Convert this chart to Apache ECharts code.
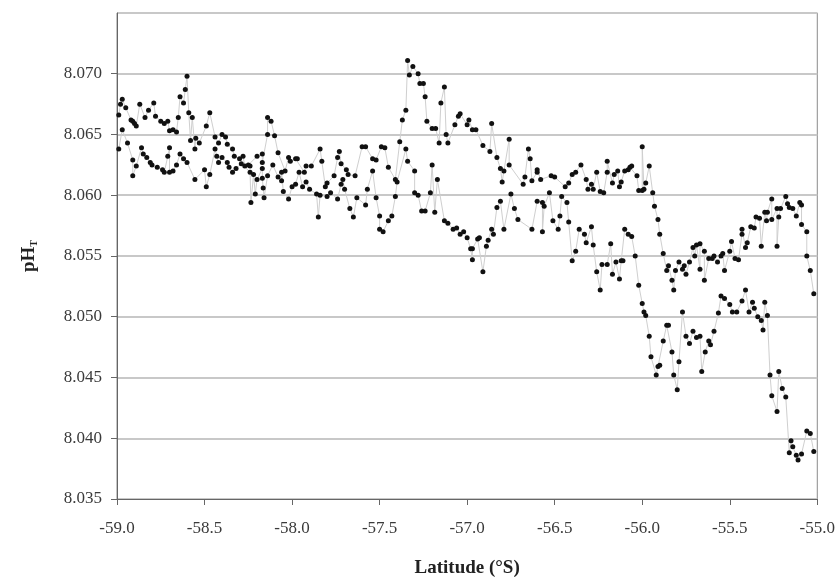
<!DOCTYPE html>
<html>
<head>
<meta charset="utf-8">
<script src="https://cdn.jsdelivr.net/npm/echarts@6/dist/echarts.min.js"></script>
<style>
  html, body { margin: 0; padding: 0; background: #fff; }
  #chart { width: 838px; height: 583px; }
</style>
</head>
<body>
<div id="chart"></div>
<script>
// latitude (°S, negative) and pH_T
var trackUpper = [
  [-58.99,8.0666],[-58.98,8.0675],[-58.97,8.0679],[-58.95,8.0672],[-58.92,8.0662],[-58.91,8.0661],
  [-58.90,8.0659],[-58.89,8.0657],[-58.87,8.0675],[-58.84,8.0664],[-58.82,8.0670],[-58.79,8.0676],
  [-58.78,8.0665],[-58.75,8.0661],[-58.73,8.0659],[-58.71,8.0661],[-58.70,8.0653],[-58.68,8.0654],
  [-58.66,8.0652],[-58.65,8.0664],[-58.64,8.0681],[-58.62,8.0676],[-58.61,8.0687],[-58.60,8.0698],
  [-58.59,8.0668],[-58.58,8.0645],[-58.57,8.0664],[-58.555,8.0638],[-58.55,8.0647],[-58.53,8.0643],
  [-58.49,8.0657],[-58.47,8.0668],[-58.44,8.0648],[-58.42,8.0643],[-58.40,8.0650],[-58.38,8.0648],
  [-58.37,8.0642],[-58.34,8.0638],[-58.33,8.0632],[-58.30,8.0630],[-58.28,8.0632],[-58.27,8.0624],
  [-58.25,8.0625],[-58.24,8.0624],[-58.20,8.0632],[-58.17,8.0634],[-58.17,8.0627],[-58.14,8.0650],
  [-58.14,8.0664],[-58.12,8.0661],[-58.10,8.0649],[-58.08,8.0635],[-58.04,8.0620],[-58.02,8.0631],
  [-58.01,8.0628],[-57.98,8.0630],[-57.97,8.0630],[-57.93,8.0619],[-57.92,8.0624],[-57.89,8.0624],
  [-57.84,8.0638],[-57.83,8.0628],[-57.81,8.0607],[-57.80,8.0610],[-57.76,8.0616],[-57.74,8.0631],
  [-57.73,8.0636],[-57.72,8.0626],[-57.69,8.0621],[-57.68,8.0617],[-57.64,8.0616],[-57.60,8.0640],
  [-57.58,8.0640],[-57.54,8.0630],[-57.52,8.0629],[-57.49,8.0640],[-57.47,8.0639],[-57.45,8.0623],
  [-57.41,8.0613],[-57.385,8.0644],[-57.37,8.0662],[-57.35,8.0670],[-57.34,8.0711],[-57.33,8.0699],
  [-57.31,8.0706],[-57.28,8.0700],[-57.27,8.0692],[-57.25,8.0692],[-57.24,8.0681],[-57.23,8.0661],
  [-57.20,8.0655],[-57.18,8.0655],[-57.16,8.0643],[-57.15,8.0676],[-57.13,8.0689],[-57.12,8.0650],
  [-57.11,8.0643],[-57.07,8.0658],[-57.05,8.0665],[-57.04,8.0667],[-57.00,8.0658],[-56.99,8.0662],
  [-56.97,8.0654],[-56.95,8.0654],[-56.91,8.0641],[-56.87,8.0636],[-56.86,8.0659],[-56.83,8.0631],
  [-56.81,8.0622],[-56.80,8.0611],[-56.79,8.0620],[-56.76,8.0646],[-56.76,8.0625],[-56.68,8.0609],
  [-56.67,8.0615],[-56.65,8.0638],[-56.64,8.0630],[-56.63,8.0612],[-56.60,8.0619],[-56.60,8.0621],
  [-56.58,8.0613],[-56.52,8.0616],[-56.50,8.0615],[-56.44,8.0607],[-56.42,8.0610],[-56.40,8.0617],
  [-56.38,8.0619],[-56.35,8.0625],[-56.32,8.0613],[-56.31,8.0605],[-56.29,8.0609],[-56.28,8.0605],
  [-56.26,8.0619],[-56.24,8.0603],[-56.22,8.0602],[-56.20,8.0619],[-56.20,8.0628],[-56.17,8.0610],
  [-56.16,8.0617],[-56.14,8.0620],[-56.13,8.0607],[-56.12,8.0611],[-56.10,8.0620],[-56.08,8.0621],
  [-56.07,8.0623],[-56.06,8.0624],[-56.03,8.0616],[-56.02,8.0604],[-56.00,8.0604],[-56.00,8.0640],
  [-55.99,8.0605],[-55.98,8.0610],[-55.96,8.0624],[-55.94,8.0602],[-55.93,8.0591],[-55.91,8.0580],
  [-55.90,8.0568],[-55.88,8.0552],[-55.86,8.0538],[-55.85,8.0542],[-55.83,8.0530],[-55.82,8.0522],
  [-55.81,8.0538],[-55.79,8.0545],[-55.77,8.0539],[-55.76,8.0542],[-55.75,8.0535],[-55.73,8.0545],
  [-55.71,8.0557],[-55.70,8.0550],[-55.69,8.0559],[-55.67,8.0539],[-55.67,8.0560],[-55.645,8.0554],
  [-55.645,8.0530],[-55.62,8.0548],[-55.60,8.0548],[-55.59,8.0550],[-55.57,8.0545],[-55.55,8.0550],
  [-55.54,8.0552],[-55.53,8.0538],[-55.50,8.0554],[-55.49,8.0562],[-55.47,8.0548],[-55.45,8.0547],
  [-55.43,8.0568],[-55.43,8.0572],[-55.41,8.0557],[-55.40,8.0561],[-55.38,8.0574],[-55.36,8.0573],
  [-55.35,8.0582],[-55.33,8.0581],[-55.32,8.0558],[-55.30,8.0586],[-55.29,8.0579],[-55.285,8.0586],
  [-55.26,8.0597],[-55.26,8.0580],[-55.23,8.0589],[-55.23,8.0558],[-55.22,8.0582],[-55.21,8.0589],
  [-55.18,8.0599],[-55.17,8.0593],[-55.16,8.0590],[-55.14,8.0589],[-55.12,8.0583],[-55.10,8.0594],
  [-55.09,8.0592],[-55.09,8.0576],[-55.06,8.0570],[-55.06,8.0550],[-55.04,8.0538],[-55.02,8.0519]
];

var trackLower = [
  [-58.99,8.0638],[-58.97,8.0654],[-58.94,8.0643],[-58.91,8.0629],[-58.91,8.0616],[-58.89,8.0624],
  [-58.86,8.0639],[-58.85,8.0634],[-58.83,8.0631],[-58.81,8.0627],[-58.80,8.0625],[-58.77,8.0623],
  [-58.74,8.0621],[-58.73,8.0619],[-58.71,8.0632],[-58.70,8.0639],[-58.70,8.0619],[-58.68,8.0620],
  [-58.66,8.0625],[-58.64,8.0634],[-58.62,8.0630],[-58.60,8.0627],[-58.555,8.0613],[-58.50,8.0621],
  [-58.49,8.0607],[-58.47,8.0617],[-58.44,8.0638],[-58.43,8.0632],[-58.42,8.0627],[-58.40,8.0631],
  [-58.37,8.0627],[-58.36,8.0623],[-58.34,8.0619],[-58.32,8.0622],[-58.29,8.0626],[-58.24,8.0619],
  [-58.235,8.0594],[-58.22,8.0617],[-58.21,8.0601],[-58.20,8.0613],[-58.17,8.0622],[-58.17,8.0614],
  [-58.165,8.0606],[-58.16,8.0598],[-58.14,8.0616],[-58.11,8.0625],[-58.08,8.0615],[-58.06,8.0612],
  [-58.06,8.0619],[-58.05,8.0603],[-58.02,8.0597],[-58.00,8.0607],[-57.98,8.0609],[-57.96,8.0619],
  [-57.94,8.0607],[-57.92,8.0611],[-57.90,8.0605],[-57.86,8.0601],[-57.85,8.0582],[-57.84,8.0600],
  [-57.80,8.0599],[-57.78,8.0602],[-57.74,8.0597],[-57.72,8.0609],[-57.71,8.0613],[-57.70,8.0605],
  [-57.67,8.0589],[-57.65,8.0582],[-57.63,8.0598],[-57.58,8.0592],[-57.57,8.0605],[-57.54,8.0620],
  [-57.52,8.0598],[-57.50,8.0583],[-57.50,8.0572],[-57.48,8.0570],[-57.45,8.0579],[-57.43,8.0583],
  [-57.41,8.0599],[-57.40,8.0611],[-57.35,8.0638],[-57.34,8.0628],[-57.30,8.0620],[-57.30,8.0602],
  [-57.28,8.0600],[-57.26,8.0587],[-57.24,8.0587],[-57.21,8.0602],[-57.20,8.0625],[-57.185,8.0586],
  [-57.17,8.0613],[-57.13,8.0579],[-57.11,8.0577],[-57.08,8.0572],[-57.06,8.0573],[-57.04,8.0568],
  [-57.02,8.0570],[-57.00,8.0565],[-56.98,8.0556],[-56.97,8.0547],[-56.97,8.0556],[-56.94,8.0564],
  [-56.93,8.0565],[-56.91,8.0537],[-56.89,8.0558],[-56.88,8.0563],[-56.86,8.0572],[-56.85,8.0568],
  [-56.83,8.0590],[-56.81,8.0595],[-56.79,8.0572],[-56.75,8.0601],[-56.73,8.0589],[-56.71,8.0580],
  [-56.63,8.0572],[-56.60,8.0595],[-56.57,8.0594],[-56.57,8.0570],[-56.56,8.0591],[-56.53,8.0602],
  [-56.51,8.0579],[-56.48,8.0572],[-56.47,8.0583],[-56.46,8.0599],[-56.43,8.0594],[-56.42,8.0578],
  [-56.40,8.0546],[-56.38,8.0554],[-56.36,8.0572],[-56.33,8.0568],[-56.32,8.0561],[-56.29,8.0574],
  [-56.28,8.0559],[-56.26,8.0537],[-56.24,8.0522],[-56.23,8.0543],[-56.20,8.0543],[-56.18,8.0560],
  [-56.17,8.0535],[-56.15,8.0545],[-56.13,8.0531],[-56.12,8.0546],[-56.11,8.0546],[-56.10,8.0572],
  [-56.08,8.0568],[-56.06,8.0566],[-56.04,8.0550],[-56.02,8.0526],[-56.00,8.0511],[-55.99,8.0504],
  [-55.98,8.0501],[-55.96,8.0484],[-55.95,8.0467],[-55.92,8.0452],[-55.91,8.0459],[-55.90,8.0460],
  [-55.88,8.0480],[-55.86,8.0493],[-55.85,8.0493],[-55.83,8.0471],[-55.82,8.0452],[-55.80,8.0440],
  [-55.79,8.0463],[-55.77,8.0504],[-55.75,8.0484],[-55.73,8.0478],[-55.71,8.0488],[-55.69,8.0483],
  [-55.67,8.0484],[-55.66,8.0455],[-55.64,8.0471],[-55.62,8.0480],[-55.61,8.0477],[-55.59,8.0488],
  [-55.565,8.0503],[-55.55,8.0517],[-55.53,8.0515],[-55.50,8.0510],[-55.485,8.0504],[-55.46,8.0504],
  [-55.43,8.0513],[-55.41,8.0522],[-55.39,8.0504],[-55.37,8.0512],[-55.36,8.0507],[-55.34,8.0500],
  [-55.32,8.0497],[-55.31,8.0489],[-55.30,8.0512],[-55.285,8.0501],[-55.27,8.0452],[-55.26,8.0435],
  [-55.23,8.0422],[-55.22,8.0455],[-55.20,8.0441],[-55.18,8.0434],[-55.16,8.0388],[-55.15,8.0398],
  [-55.14,8.0393],[-55.12,8.0386],[-55.11,8.0382],[-55.09,8.0387],[-55.06,8.0406],[-55.04,8.0404],
  [-55.02,8.0389]
];

var latRange = [-59, -55];
var phRange = [8.035, 8.075];

var serif = 'Liberation Serif';

function trackSeries(data) {
  return {
    type: 'line',
    data: data,
    symbol: 'circle',
    symbolSize: 5,
    showSymbol: true,
    itemStyle: { color: '#111' },
    lineStyle: { color: '#cfcfcf', width: 1 },
    emphasis: { disabled: true },
    animation: false
  };
}

var chart = echarts.init(document.getElementById('chart'));
chart.setOption({
  backgroundColor: '#fff',
  animation: false,
  grid: {
    left: 117, right: 20, top: 13, bottom: 82,
    show: true, borderColor: '#8a8a8a', borderWidth: 1
  },
  xAxis: {
    type: 'value',
    min: latRange[0], max: latRange[1], interval: 0.5,
    name: 'Latitude (°S)',
    nameLocation: 'middle',
    nameGap: 60,
    nameTextStyle: { fontFamily: serif, fontSize: 19, fontWeight: 'bold', color: '#222' },
    axisLine: { onZero: false, lineStyle: { color: '#666' } },
    axisTick: { length: 6, lineStyle: { color: '#666' } },
    axisLabel: {
      fontFamily: serif, fontSize: 17, color: '#3a3a3a', margin: 21,
      formatter: function (v) { return v.toFixed(1); }
    },
    splitLine: { show: false }
  },
  yAxis: {
    type: 'value',
    min: phRange[0], max: phRange[1], interval: 0.005,
    name: '{b|pH}{s|T}',
    nameLocation: 'middle',
    nameRotate: 90,
    nameGap: 78,
    nameTextStyle: {
      rich: {
        b: { fontFamily: serif, fontSize: 19, fontWeight: 'bold', color: '#222' },
        s: { fontFamily: serif, fontSize: 10, fontWeight: 'bold', color: '#222', verticalAlign: 'bottom', padding: [8, 0, 0, 0] }
      }
    },
    axisLine: { show: true, lineStyle: { color: '#666' } },
    axisTick: { show: true, length: 6, lineStyle: { color: '#666' } },
    axisLabel: {
      fontFamily: serif, fontSize: 17, color: '#3a3a3a', margin: 15,
      showMaxLabel: false,
      formatter: function (v) { return v.toFixed(3); }
    },
    splitLine: { lineStyle: { color: '#c8c8c8', width: 2 } }
  },
  series: [trackSeries(trackUpper), trackSeries(trackLower)]
});
</script>
</body>
</html>
